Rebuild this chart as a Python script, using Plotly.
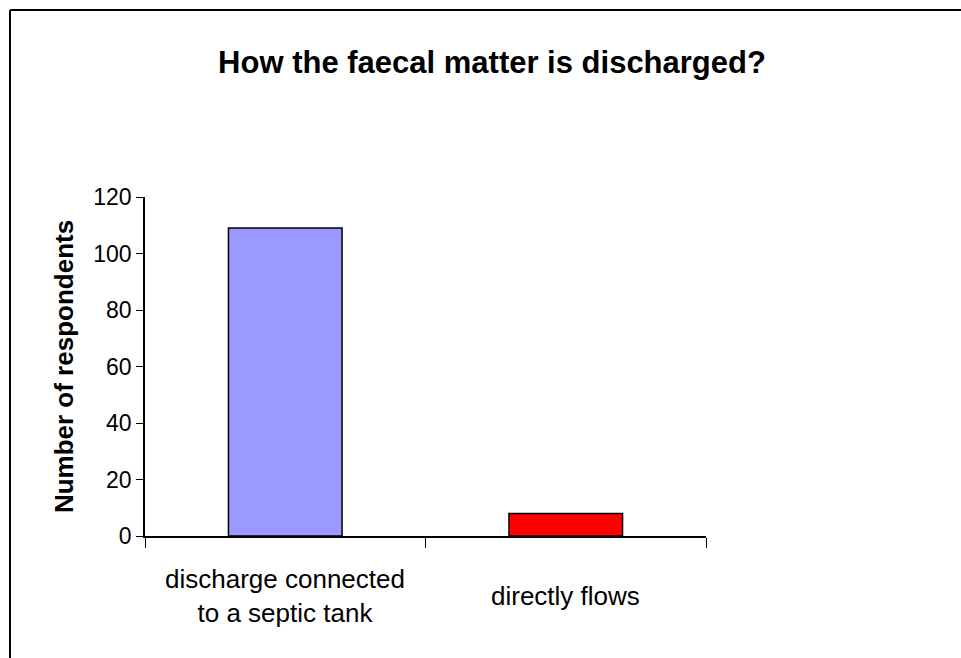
import plotly.graph_objects as go

categories = ["discharge connected<br>to a septic tank", "directly flows"]
values = [109, 8]
colors = ["#9999FF", "#FF0000"]
y_ticks = [0, 20, 40, 60, 80, 100, 120]

W, H = 961, 658
L, T = 145, 197
R = W - 706
B = H - 536
pw, ph = W - L - R, H - T - B

fig = go.Figure(go.Bar(
    x=categories, y=values,
    marker=dict(color=colors, line=dict(color="black", width=1.5)),
    width=0.405,
))

font_family = "Liberation Sans, Arial, sans-serif"

label_y = -(596 - 536) / ph
annotations = [
    dict(x=c, y=label_y, xref="x", yref="paper", text=c, showarrow=False,
         xanchor="center", yanchor="middle",
         font=dict(size=26, family=font_family, color="black"))
    for c in categories
]

bx0 = (10 - L) / pw
bx1 = (W + 20 - L) / pw
by_top = (H - B - 10) / ph
by_bot = (H - B - (H + 20)) / ph
border = dict(color="black", width=2)

fig.update_layout(
    width=W, height=H,
    margin=dict(l=L, r=R, t=T, b=B),
    paper_bgcolor="white", plot_bgcolor="white",
    showlegend=False,
    font=dict(family=font_family, color="black", size=22),
    title=dict(text="<b>How the faecal matter is discharged?</b>",
               x=492 / W, xanchor="center", y=1 - 62 / H, yanchor="middle",
               font=dict(size=31, family=font_family, color="black")),
    annotations=annotations,
    shapes=[
        dict(type="line", xref="paper", yref="paper", x0=bx0, x1=bx1, y0=by_top, y1=by_top, line=border, layer="below"),
        dict(type="line", xref="paper", yref="paper", x0=bx0, x1=bx0, y0=by_top, y1=by_bot, line=border, layer="below"),
    ],
)

fig.update_xaxes(
    showline=True, linecolor="black", linewidth=2,
    ticks="outside", tickson="boundaries", ticklen=10, tickcolor="black", tickwidth=1,
    showgrid=False, showticklabels=False,
)
fig.update_yaxes(
    range=[0, 120], tickvals=y_ticks, showline=True, linecolor="black", linewidth=1.5,
    ticks="outside", ticklen=7, tickcolor="black", tickwidth=1,
    showgrid=False, zeroline=False, tickfont=dict(size=23, family=font_family),
    title=dict(text="<b>Number of respondents</b>", font=dict(size=26, family=font_family), standoff=12),
)

fig.write_html(
    "out.html",
    config={"displayModeBar": False},
    post_script="document.body.style.margin='0';document.body.style.overflow='hidden';",
)
